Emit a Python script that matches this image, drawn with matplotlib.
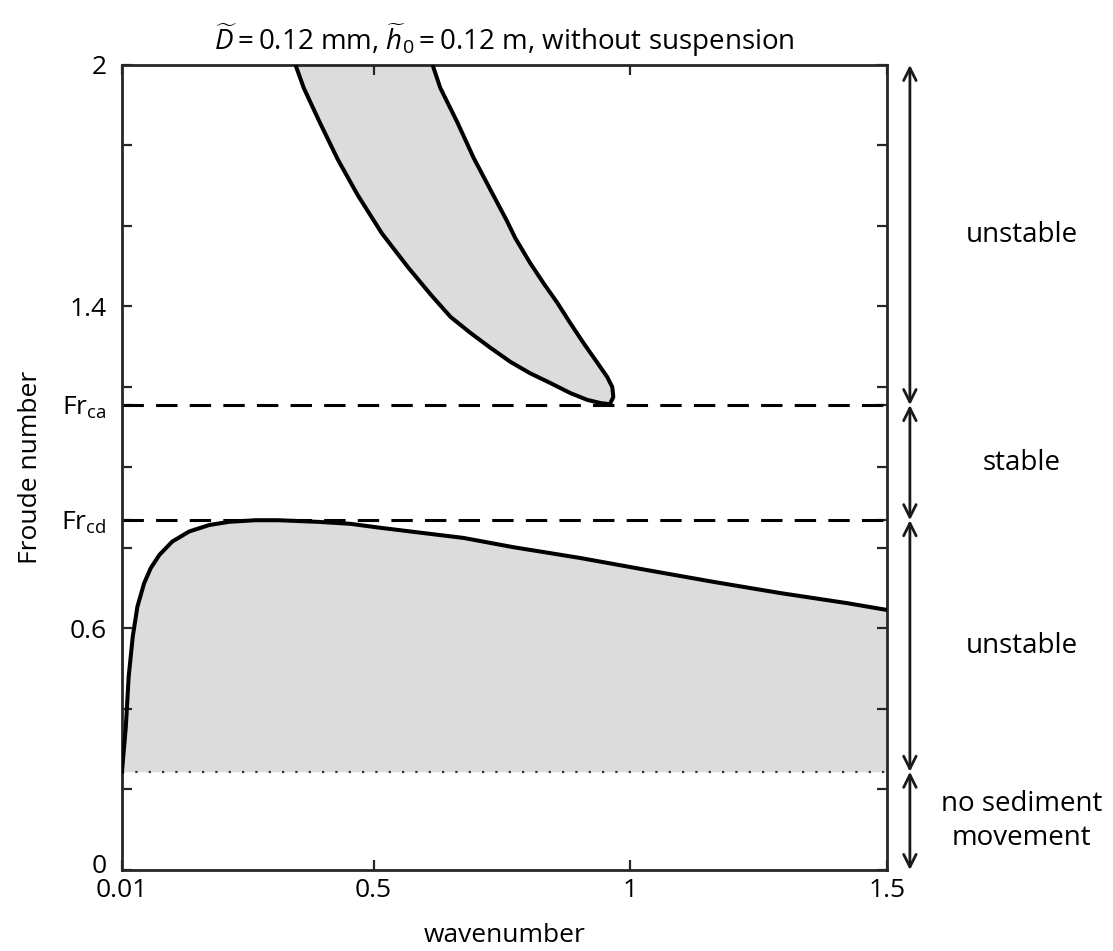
import numpy as np
import matplotlib
matplotlib.use('Agg')
import matplotlib.pyplot as plt
from matplotlib.transforms import ScaledTranslation

plt.rcParams['font.family'] = ['Open Sans', 'DejaVu Sans']
plt.rcParams['mathtext.fontset'] = 'custom'
plt.rcParams['mathtext.rm'] = 'Open Sans'
plt.rcParams['mathtext.it'] = 'Open Sans:italic'

# critical Froude numbers and threshold of motion
fr_ca = 1.155
fr_cd = 0.869
fr_threshold = 0.244

# upper unstable lens (antidunes)
lens_left_k = [0.348, 0.364, 0.395, 0.430, 0.469, 0.516, 0.568, 0.611, 0.650, 0.689, 0.728,
               0.767, 0.805, 0.844, 0.883, 0.916, 0.942, 0.961]
lens_left_fr = [2.0, 1.943, 1.858, 1.766, 1.677, 1.582, 1.496, 1.430, 1.374, 1.334, 1.297,
                1.262, 1.234, 1.210, 1.185, 1.168, 1.160, 1.157]
lens_right_k = [0.961, 0.967, 0.965, 0.955, 0.936, 0.909, 0.883, 0.858, 0.831, 0.805, 0.776,
                0.760, 0.733, 0.695, 0.663, 0.630, 0.615]
lens_right_fr = [1.159, 1.175, 1.200, 1.225, 1.260, 1.309, 1.359, 1.409, 1.458, 1.508, 1.570,
                 1.612, 1.677, 1.769, 1.858, 1.943, 2.0]

# lower unstable region (dunes)
lower_k = [0.01, 0.0175, 0.023, 0.031, 0.040, 0.053, 0.066, 0.083, 0.108, 0.141, 0.180, 0.219,
           0.271, 0.313, 0.390, 0.455, 0.514, 0.578, 0.675, 0.772, 0.903, 1.033, 1.161, 1.292,
           1.422, 1.5]
lower_fr = [0.244, 0.356, 0.480, 0.580, 0.654, 0.712, 0.750, 0.783, 0.816, 0.841, 0.857, 0.865,
            0.869, 0.869, 0.865, 0.860, 0.850, 0.840, 0.825, 0.802, 0.775, 0.745, 0.716, 0.688,
            0.663, 0.646]

regions = [(fr_ca, 2.0, 'unstable'), (fr_cd, fr_ca, 'stable'),
           (fr_threshold, fr_cd, 'unstable'), (0.0, fr_threshold, 'no sediment\nmovement')]

fig = plt.figure(figsize=(11.13, 9.51), dpi=100)
ax = fig.add_axes([0.1096, 0.0852, 0.6873, 0.8465])

fill_c = '#dcdcdc'
lens_k = lens_left_k + lens_right_k
lens_fr = lens_left_fr + lens_right_fr
ax.fill(lens_k, lens_fr, color=fill_c, lw=0, zorder=1)
ax.plot(lens_k, lens_fr, color='black', lw=2.9, zorder=3,
        solid_joinstyle='round', solid_capstyle='butt')

ax.fill_between(lower_k, fr_threshold, lower_fr, color=fill_c, lw=0, zorder=1)
ax.plot(lower_k, lower_fr, color='black', lw=2.9, zorder=3, solid_joinstyle='round')

ax.axhline(fr_ca, color='black', lw=2.2, ls=(0, (7, 4)), zorder=2)
ax.axhline(fr_cd, color='black', lw=2.2, ls=(0, (7, 4)), zorder=2)
ax.axhline(fr_threshold, color='#333333', lw=1.6, ls=(0, (1, 5)), zorder=2)

ax.set_xlim(0.01, 1.5)
ax.set_ylim(0, 2)

ax.set_xticks([0.01, 0.5, 1, 1.5])
ax.set_xticklabels(['0.01', '0.5', '1', '1.5'])
ax.set_yticks([0, 0.6, fr_cd, fr_ca, 1.4, 2])
ax.set_yticklabels(['0', '0.6', r'Fr$_{\mathrm{cd}}$', r'Fr$_{\mathrm{ca}}$', '1.4', '2'])
ax.set_yticks([0.2, 0.4, 0.8, 1.0, 1.2, 1.6, 1.8], minor=True)

ax.tick_params(axis='both', which='both', direction='in', top=True, right=True,
               length=7, width=1.6, color='#262626', labelsize=19)
ax.tick_params(axis='x', pad=6)
ax.tick_params(axis='y', pad=11)
for s in ax.spines.values():
    s.set_linewidth(2.0)
    s.set_color('#262626')

# lift the "0" on the y axis a little so it clears "0.01"
zero_lbl = ax.get_yticklabels()[0]
zero_lbl.set_transform(zero_lbl.get_transform() + ScaledTranslation(0, 5 / 72, fig.dpi_scale_trans))

ax.set_xlabel('wavenumber', fontsize=19, labelpad=14)
ax.set_ylabel('Froude number', fontsize=19, labelpad=13)
ax.set_title(r'$\widetilde{D}=0.12$ mm, $\widetilde{h}_0=0.12$ m, without suspension',
             fontsize=20, pad=11)

# region arrows and labels on the right
trans = ax.get_yaxis_transform()
for lo, hi, label in regions:
    ax.annotate('', xy=(1.030, lo), xytext=(1.030, hi), xycoords=trans, textcoords=trans,
                arrowprops=dict(arrowstyle='<->, head_length=0.5, head_width=0.25',
                                color='#1a1a1a', lw=2.0, shrinkA=0, shrinkB=0,
                                mutation_scale=18),
                annotation_clip=False)
    ax.text(1.176, (lo + hi) / 2, label, transform=trans, ha='center', va='center',
            fontsize=20, linespacing=1.3)

fig.savefig('out.png', dpi=100)
